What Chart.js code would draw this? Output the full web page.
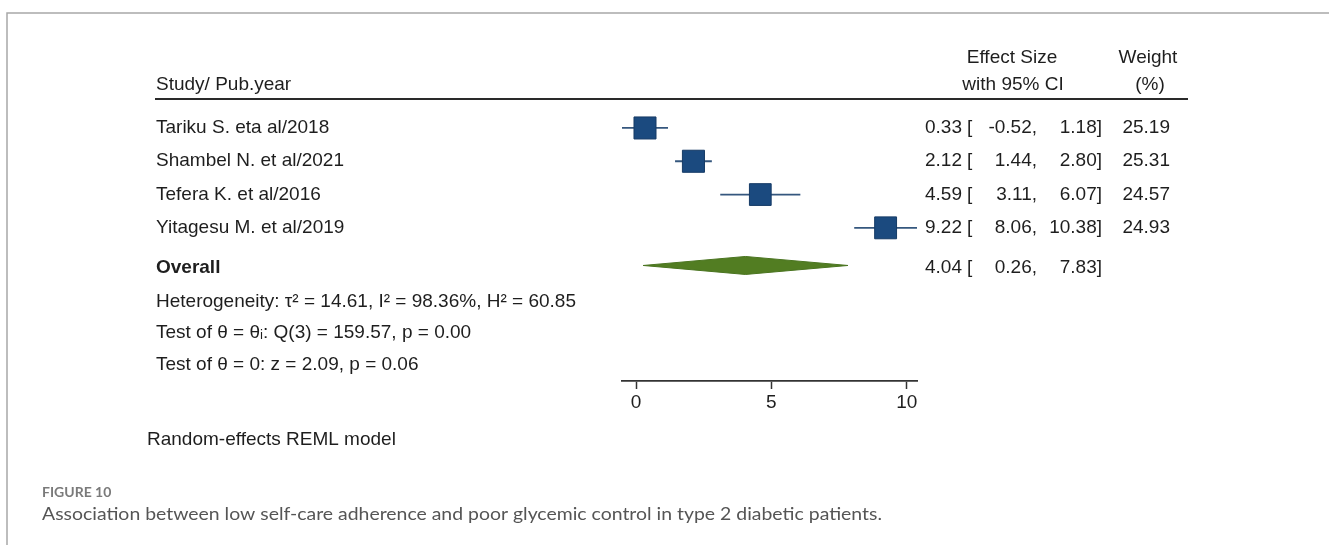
<!DOCTYPE html>
<html>
<head>
<meta charset="utf-8">
<script src="https://cdn.jsdelivr.net/npm/chart.js@4.4.1/dist/chart.umd.min.js"></script>
<style>
html,body{margin:0;padding:0;background:#fff;}
#wrap{position:relative;width:1329px;height:545px;}
canvas{display:block;}
</style>
</head>
<body>
<div id="wrap"><canvas id="c" width="1329" height="545"></canvas></div>
<script>
// ---- data ----
const studies = ["Tariku S. eta al/2018", "Shambel N. et al/2021", "Tefera K. et al/2016", "Yitagesu M. et al/2019"];
const effect = [0.33, 2.12, 4.59, 9.22];
const ciLow = [-0.52, 1.44, 3.11, 8.06];
const ciHigh = [1.18, 2.80, 6.07, 10.38];
const weights = [25.19, 25.31, 24.57, 24.93];
const overall = [4.04, 0.26, 7.83]; // estimate, low, high
const statsLines = [
  "Heterogeneity: \u03C4\u00B2 = 14.61, I\u00B2 = 98.36%, H\u00B2 = 60.85",
  "Test of \u03B8 = \u03B8\u1D62: Q(3) = 159.57, p = 0.00",
  "Test of \u03B8 = 0: z = 2.09, p = 0.06"
];
const xTicks = [0, 5, 10];
const headers = { study: "Study/ Pub.year", es1: "Effect Size", es2: "with 95% CI", w1: "Weight", w2: "(%)" };
const modelNote = "Random-effects REML model";
const figLabel = "FIGURE 10";
const caption = "Association between low self-care adherence and poor glycemic control in type 2 diabetic patients.";

// ---- layout (row positions in y-scale units) ----
const rowPos = studies.map((_, i) => 0.87 + i);
const overallPos = 5.0;
const statPos = [6.08, 7.02, 7.98];
const FONT = '"Liberation Sans", Arial, sans-serif';
const TXT = '#1e1e1e';

const datasets = [];
// CI lines
studies.forEach((s, i) => {
  datasets.push({
    type: 'line',
    data: [{x: ciLow[i], y: rowPos[i]}, {x: ciHigh[i], y: rowPos[i]}],
    borderColor: '#35577e', borderWidth: 1.8, pointRadius: 0, showLine: true, clip: false, order: 2
  });
});
// squares
const maxW = Math.max(...weights);
datasets.push({
  type: 'scatter',
  data: effect.map((e, i) => ({x: e, y: rowPos[i]})),
  pointStyle: 'rect',
  pointRadius: weights.map(w => 15.6 * Math.sqrt(w / maxW)),
  backgroundColor: '#1b4a7f', borderColor: '#163b66', borderWidth: 1, clip: false, order: 1
});
// diamond
const dh = 0.27;
datasets.push({
  type: 'line',
  data: [
    {x: overall[1], y: overallPos}, {x: overall[0], y: overallPos - dh},
    {x: overall[2], y: overallPos}, {x: overall[0], y: overallPos + dh},
    {x: overall[1], y: overallPos}
  ],
  showLine: true, tension: 0, fill: 'shape', backgroundColor: '#527d22', borderColor: '#4a7420',
  borderWidth: 1, pointRadius: 0, clip: false, order: 1
});

const textPlugin = {
  id: 'forestText',
  afterDraw(chart) {
    const ctx = chart.ctx;
    const ys = chart.scales.y;
    ctx.save();
    // frame
    ctx.strokeStyle = '#a8a8a8'; ctx.lineWidth = 1.5;
    ctx.beginPath(); ctx.moveTo(7, 545); ctx.lineTo(7, 13); ctx.lineTo(1329, 13); ctx.stroke();
    // header line
    ctx.strokeStyle = '#2a2a2a'; ctx.lineWidth = 2;
    ctx.beginPath(); ctx.moveTo(155, 99); ctx.lineTo(1188, 99); ctx.stroke();

    ctx.fillStyle = TXT;
    ctx.textBaseline = 'middle';
    ctx.font = '19px ' + FONT;
    ctx.textAlign = 'left';
    ctx.fillText(headers.study, 156, 85);
    ctx.textAlign = 'center';
    ctx.fillText(headers.es1, 1012, 58);
    ctx.fillText(headers.es2, 1013, 85);
    ctx.fillText(headers.w1, 1148, 58);
    ctx.fillText(headers.w2, 1150, 85);

    const fmt = v => v.toFixed(2);
    const row = (label, y, es, lo, hi, w, bold) => {
      ctx.textAlign = 'left';
      ctx.font = (bold ? 'bold ' : '') + '19px ' + FONT;
      ctx.fillText(label, 156, y);
      ctx.font = '19px ' + FONT;
      ctx.textAlign = 'right';
      ctx.fillText(fmt(es), 962, y);
      ctx.textAlign = 'left';
      ctx.fillText('[', 967, y);
      ctx.textAlign = 'right';
      ctx.fillText(fmt(lo) + ',', 1037, y);
      ctx.fillText(fmt(hi) + ']', 1102, y);
      if (w !== null) ctx.fillText(fmt(w), 1170, y);
    };
    studies.forEach((s, i) => row(s, ys.getPixelForValue(rowPos[i]), effect[i], ciLow[i], ciHigh[i], weights[i], false));
    row('Overall', ys.getPixelForValue(overallPos) + 2, overall[0], overall[1], overall[2], null, true);

    ctx.textAlign = 'left';
    ctx.font = '19px ' + FONT;
    statsLines.forEach((t, i) => ctx.fillText(t, 156, ys.getPixelForValue(statPos[i])));
    ctx.fillText(modelNote, 147, 440);

    // caption
    ctx.fillStyle = '#7a7a7a';
    ctx.font = 'bold 14px Lato, "Open Sans", sans-serif';
    ctx.fillText(figLabel, 42, 492);
    ctx.fillStyle = '#555';
    ctx.font = '17px Lato, "Open Sans", sans-serif';
    const cw = ctx.measureText(caption).width;
    const target = 840;
    ctx.save();
    ctx.translate(42, 515);
    ctx.scale(target / cw, 1);
    ctx.fillText(caption, 0, 0);
    ctx.restore();
    ctx.restore();
  }
};

const xMin = Math.min(...ciLow);
const xMax = Math.max(...ciHigh);

new Chart(document.getElementById('c'), {
  type: 'scatter',
  data: { datasets },
  options: {
    responsive: false,
    animation: false,
    events: [],
    layout: { padding: { left: 622, right: 1329 - 917, top: 99, bottom: 545 - 381 - 40 } },
    plugins: { legend: { display: false }, tooltip: { enabled: false } },
    scales: {
      x: {
        type: 'linear', min: xMin, max: xMax,
        afterBuildTicks: s => { s.ticks = xTicks.map(v => ({value: v})); },
        afterFit: s => { s.height = 40; },
        grid: { display: true, drawOnChartArea: false, drawTicks: true, tickLength: 8, color: '#333', tickWidth: 1.5 },
        border: { display: true, color: '#333', width: 1.8 },
        ticks: { color: TXT, font: { family: FONT, size: 19 }, padding: 2, maxRotation: 0, autoSkip: false }
      },
      y: {
        type: 'linear', min: 0, max: 8.47, reverse: true, display: false
      }
    }
  },
  plugins: [textPlugin]
});
</script>
</body>
</html>
